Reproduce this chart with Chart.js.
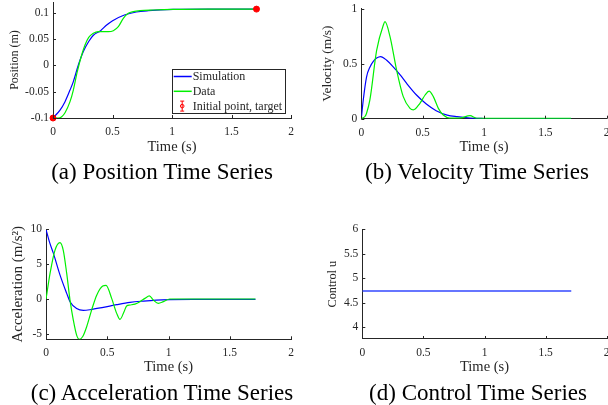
<!DOCTYPE html>
<html>
<head>
<meta charset="utf-8">
<script src="https://cdn.jsdelivr.net/npm/chart.js@4.4.1/dist/chart.umd.min.js"></script>
<style>
html, body { margin:0; padding:0; background:#fff; overflow:hidden; }
#fig { position:relative; width:608px; height:405px; overflow:hidden; }
#fig canvas { position:absolute; }
.cap { position:absolute; font-family:"Liberation Serif", serif; font-size:23px; line-height:24px; color:#000; white-space:nowrap; transform:translateX(-50%); }
</style>
</head>
<body>
<div id="fig"></div>
<script>
// tick labels
const timeTicks = [0, 0.5, 1, 1.5, 2];
const posTicks = [-0.1, -0.05, 0, 0.05, 0.1];
const velTicks = [0, 0.5, 1];
const accTicks = [-5, 0, 5, 10];
const ctrlTicks = [4, 4.5, 5, 5.5, 6];

// position (m)
const posSimT  = [0, 0.059, 0.101, 0.143, 0.171, 0.213, 0.255, 0.30, 0.339, 0.40, 0.451, 0.501, 0.60, 0.70, 0.80, 1.01, 1.3, 1.71];
const posSimV  = [-0.1, -0.085, -0.069, -0.047, -0.031, 0.0005, 0.026, 0.045, 0.057, 0.0656, 0.0764, 0.0845, 0.0953, 0.101, 0.1035, 0.106, 0.1065, 0.1065];
const posDataT = [0, 0.045, 0.073, 0.101, 0.143, 0.171, 0.204, 0.241, 0.269, 0.30, 0.339, 0.381, 0.423, 0.465, 0.507, 0.549, 0.591, 0.633, 0.675, 0.731, 0.843, 1.01, 1.3, 1.71];
const posDataV = [-0.1, -0.1, -0.0975, -0.090, -0.069, -0.047, -0.012, 0.0195, 0.0384, 0.053, 0.0606, 0.0637, 0.0637, 0.0637, 0.0656, 0.0732, 0.089, 0.0985, 0.1016, 0.1035, 0.1048, 0.106, 0.1065, 0.1065];
const targetT = [0, 1.71];
const targetV = [-0.1, 0.1065];

// velocity (m/s)
const velSimT  = [0, 0.016, 0.043, 0.071, 0.098, 0.125, 0.158, 0.207, 0.26, 0.315, 0.37, 0.45, 0.53, 0.61, 0.70, 0.78, 0.886, 1.0, 1.2, 1.71];
const velSimV  = [0, 0.17, 0.38, 0.47, 0.52, 0.55, 0.564, 0.53, 0.47, 0.40, 0.32, 0.215, 0.133, 0.073, 0.033, 0.018, 0.006, 0.002, 0, 0];
const velDataT = [0, 0.03, 0.043, 0.07, 0.125, 0.18, 0.193, 0.234, 0.288, 0.342, 0.397, 0.424, 0.478, 0.52, 0.552, 0.587, 0.628, 0.668, 0.72, 0.80, 0.886, 0.94, 1.0, 1.71];
const velDataV = [0, 0.02, 0.05, 0.17, 0.62, 0.85, 0.88, 0.745, 0.44, 0.2, 0.094, 0.08, 0.14, 0.215, 0.25, 0.2, 0.094, 0.033, 0.006, 0.005, 0.027, 0.004, 0.003, 0.003];

// acceleration (m/s^2)
const accSimT  = [0, 0.03, 0.06, 0.114, 0.169, 0.196, 0.25, 0.305, 0.36, 0.468, 0.577, 0.686, 0.795, 0.9, 1.01, 1.2, 1.71];
const accSimV  = [10, 8.1, 6.6, 3.5, 0.86, -0.33, -1.3, -1.57, -1.48, -1.14, -0.76, -0.43, -0.24, -0.1, -0.03, 0, 0];
const accDataT = [0, 0.033, 0.073, 0.114, 0.141, 0.169, 0.196, 0.223, 0.25, 0.272, 0.3, 0.332, 0.373, 0.414, 0.463, 0.49, 0.536, 0.577, 0.604, 0.637, 0.658, 0.686, 0.726, 0.767, 0.808, 0.844, 0.876, 0.917, 0.958, 1.01, 1.1, 1.71];
const accDataV = [0, 3.7, 7.0, 8.1, 7.0, 3.7, -0.1, -2.95, -5.1, -5.7, -5.3, -3.9, -1.5, 0.6, 1.9, 2.0, 0.14, -2.0, -2.86, -1.76, -0.95, -0.8, -0.67, -0.33, 0.14, 0.5, -0.1, -0.57, -0.33, 0.05, 0.05, 0.05];

// control u
const ctrlT = [0, 1.71];
const ctrlU = [4.74, 4.74];

const fig = document.getElementById('fig');
const AX = '#262626';
const SERIF = '"Liberation Serif", serif';
const GREEN = '#00f000';
const BLUE = '#0000ff';

function pts(t, v) { return t.map((x, i) => ({ x: x, y: v[i] })); }
function line(t, v, color) {
  return { data: pts(t, v), showLine: true, borderColor: color, backgroundColor: color,
           borderWidth: 1.2, pointRadius: 0, cubicInterpolationMode: 'monotone' };
}

const innerTicks = {
  id: 'innerTicks',
  afterDraw(chart) {
    const { ctx, chartArea: a, scales: { x, y } } = chart;
    ctx.save();
    ctx.strokeStyle = AX; ctx.lineWidth = 1;
    ctx.beginPath();
    x.ticks.forEach(t => { const p = Math.round(x.getPixelForValue(t.value)) + 0.5; ctx.moveTo(p, a.bottom); ctx.lineTo(p, a.bottom - 3); });
    y.ticks.forEach(t => { const p = Math.round(y.getPixelForValue(t.value)) + 0.5; ctx.moveTo(a.left, p); ctx.lineTo(a.left + 3, p); });
    ctx.stroke();
    ctx.restore();
  }
};

function legendPlugin(box, cl, ct) {
  return {
    id: 'boxLegend',
    afterDraw(chart) {
      const ctx = chart.ctx;
      const x0 = box.l - cl, y0 = box.t - ct, w = box.r - box.l, h = box.b - box.t;
      ctx.save();
      ctx.fillStyle = '#fff';
      ctx.fillRect(x0, y0, w, h);
      ctx.strokeStyle = AX; ctx.lineWidth = 1;
      ctx.strokeRect(Math.round(x0) + 0.5, Math.round(y0) + 0.5, Math.round(w), Math.round(h));
      const items = [['Simulation', 'line', BLUE], ['Data', 'line', GREEN], ['Initial point, target', 'err', '#ff0000']];
      ctx.font = '12px ' + SERIF;
      ctx.textBaseline = 'middle';
      items.forEach((it, i) => {
        const cy = y0 + 7.5 + i * 14.8;
        ctx.strokeStyle = it[2]; ctx.fillStyle = it[2];
        if (it[1] === 'line') {
          ctx.lineWidth = 1.5;
          ctx.beginPath(); ctx.moveTo(x0 + 2, cy); ctx.lineTo(x0 + 20, cy); ctx.stroke();
        } else {
          const cx = x0 + 10.5;
          ctx.lineWidth = 1;
          ctx.beginPath();
          ctx.moveTo(cx, cy - 5); ctx.lineTo(cx, cy + 5);
          ctx.moveTo(cx - 2, cy - 5); ctx.lineTo(cx + 2, cy - 5);
          ctx.moveTo(cx - 2, cy + 5); ctx.lineTo(cx + 2, cy + 5);
          ctx.stroke();
          ctx.beginPath(); ctx.arc(cx, cy, 1.8, 0, Math.PI * 2); ctx.stroke();
        }
        ctx.fillStyle = AX;
        ctx.fillText(it[0], x0 + 21, cy + 0.5);
      });
      ctx.restore();
    }
  };
}

function panel(opt) {
  const b = opt.box, padL = 5, padT = 15, padR = 25, padB = 5;
  const cl = Math.floor(b.l - opt.yw - padL), ct = Math.floor(b.t - padT);
  const w = Math.ceil(b.r + padR - cl), h = Math.ceil(b.b + opt.xh + padB - ct);
  const cv = document.createElement('canvas');
  cv.width = w; cv.height = h;
  cv.style.left = cl + 'px'; cv.style.top = ct + 'px';
  fig.appendChild(cv);
  const plugins = [innerTicks];
  if (opt.legend) plugins.push(legendPlugin(opt.legend, cl, ct));
  new Chart(cv, {
    type: 'scatter',
    data: { datasets: opt.datasets },
    plugins: plugins,
    options: {
      responsive: false,
      animation: false,
      layout: { padding: { left: b.l - opt.yw - cl, top: b.t - ct, right: w - (b.r - cl), bottom: h - opt.xh - (b.b - ct) } },
      plugins: { legend: { display: false }, tooltip: { enabled: false } },
      scales: {
        x: {
          type: 'linear', min: 0, max: 2,
          afterBuildTicks: s => { s.ticks = timeTicks.map(v => ({ value: v })); },
          afterFit: s => { s.height = opt.xh; },
          grid: { display: false, drawTicks: false },
          border: { display: true, color: AX, width: 1 },
          ticks: { color: AX, padding: 7, maxRotation: 0, autoSkip: false, font: { family: SERIF, size: 11.5 }, callback: v => String(v) },
          title: { display: true, text: 'Time (s)', color: AX, padding: 0, font: { family: SERIF, size: 14.5 } }
        },
        y: {
          type: 'linear', min: opt.yMin, max: opt.yMax,
          afterBuildTicks: s => { s.ticks = opt.yTicks.map(v => ({ value: v })); },
          afterFit: s => { s.width = opt.yw; },
          grid: { display: false, drawTicks: false },
          border: { display: true, color: AX, width: 1 },
          ticks: { color: AX, padding: 4, autoSkip: false, font: { family: SERIF, size: 11.5 }, callback: v => String(v) },
          title: { display: true, text: opt.yTitle, color: AX, padding: 0, font: { family: SERIF, size: opt.yFont } }
        }
      }
    }
  });
  const cap = document.createElement('div');
  cap.className = 'cap';
  cap.textContent = opt.caption;
  cap.style.left = opt.capX + 'px';
  cap.style.top = (opt.capY - 12) + 'px';
  fig.appendChild(cap);
}

panel({
  box: { l: 53, r: 291, t: 2, b: 118 }, yw: 45.7, xh: 38.2, yFont: 12,
  yMin: -0.1, yMax: 0.12, yTicks: posTicks, yTitle: 'Position (m)',
  legend: { l: 171.7, r: 285, t: 69, b: 112.7 },
  caption: '(a) Position Time Series', capX: 162, capY: 172,
  datasets: [
    { data: pts(targetT, targetV), pointRadius: 3, pointBackgroundColor: '#ff0000', pointBorderColor: '#ff0000', showLine: false, clip: false },
    line(posDataT, posDataV, GREEN),
    line(posSimT, posSimV, BLUE)
  ]
});

panel({
  box: { l: 361.3, r: 606.7, t: 8.5, b: 118.7 }, yw: 42, xh: 37.5, yFont: 13.4,
  yMin: 0, yMax: 1, yTicks: velTicks, yTitle: 'Velocity (m/s)',
  caption: '(b) Velocity Time Series', capX: 477, capY: 172,
  datasets: [
    line(velDataT, velDataV, GREEN),
    line(velSimT, velSimV, BLUE)
  ]
});

panel({
  box: { l: 46, r: 291, t: 229.3, b: 339.3 }, yw: 37, xh: 36.9, yFont: 15,
  yMin: -5.7, yMax: 10, yTicks: accTicks, yTitle: 'Acceleration (m/s²)',
  caption: '(c) Acceleration Time Series', capX: 162, capY: 393,
  datasets: [
    line(accDataT, accDataV, GREEN),
    line(accSimT, accSimV, BLUE)
  ]
});

panel({
  box: { l: 362.3, r: 606.7, t: 229.3, b: 339 }, yw: 37.4, xh: 37.2, yFont: 12.3,
  yMin: 3.76, yMax: 6, yTicks: ctrlTicks, yTitle: 'Control u',
  caption: '(d) Control Time Series', capX: 478, capY: 393,
  datasets: [
    Object.assign(line(ctrlT, ctrlU, '#3347ff'), { borderWidth: 1.6 })
  ]
});
</script>
</body>
</html>
